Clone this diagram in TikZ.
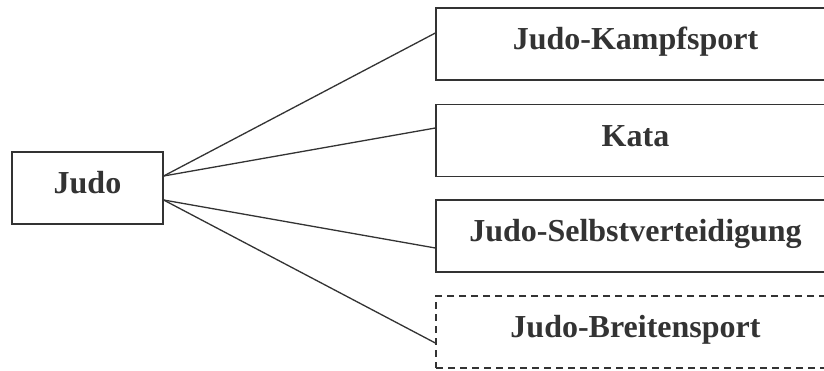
\documentclass[tikz,border=0pt]{standalone}
\usepackage{fontspec}
\setmainfont{Liberation Serif}
\definecolor{ink}{HTML}{333333}
\begin{document}
\begin{tikzpicture}[x=1pt,y=-1pt,
  box/.style={draw=ink, line width=1.3pt, rectangle, inner sep=0pt,
    text height=22pt, text depth=11pt,
    text=ink, font=\fontsize{32}{36}\selectfont\bfseries},
  root/.style={box, minimum width=151pt, minimum height=72pt},
  leaf/.style={box, minimum width=399pt, minimum height=72pt},
  optional/.style={dashed, dash pattern=on 7pt off 5pt},
  link/.style={draw=ink, line width=1.3pt}]
  \useasboundingbox (0,0) rectangle (824,370);
  \fill[white] (0,0) rectangle (824,370);
  \clip (0,0) rectangle (824,370);

  \node[root] (judo) at (87.5,188) {Judo};
  \node[leaf] (kampf) at (635.5,44) {Judo-Kampfsport};
  \node[leaf] (kata) at (635.5,140.5) {Kata};
  \node[leaf] (selbst) at (635.5,236) {Judo-Selbstverteidigung};
  \node[leaf, optional] (breiten) at (635.5,332) {Judo-Breitensport};

  \draw[link] ([yshift=12pt]judo.east) -- ([yshift=11pt]kampf.west);
  \draw[link] ([yshift=12pt]judo.east) -- ([yshift=12.5pt]kata.west);
  \draw[link] ([yshift=-12pt]judo.east) -- ([yshift=-12pt]selbst.west);
  \draw[link] ([yshift=-12pt]judo.east) -- ([yshift=-11pt]breiten.west);
\end{tikzpicture}
\end{document}
